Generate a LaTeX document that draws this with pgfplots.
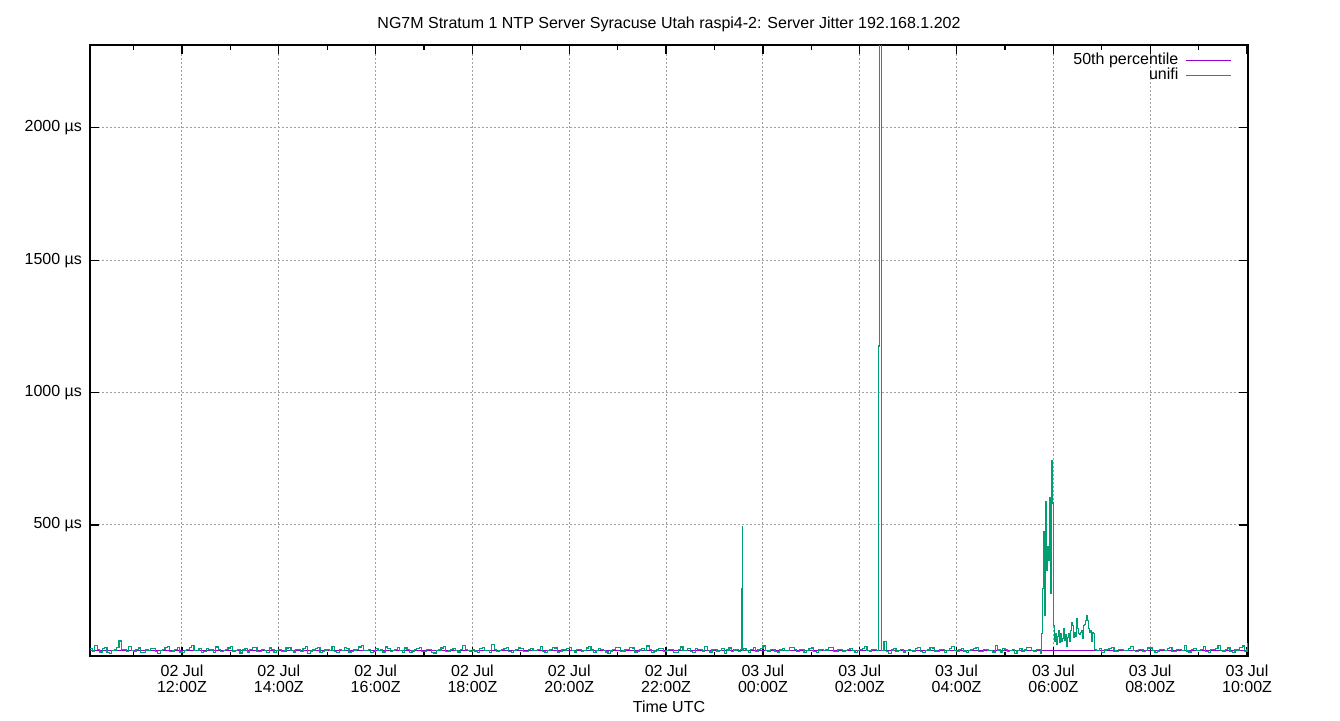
\documentclass[border=0pt]{standalone}
\usepackage{fontspec}
\setmainfont{Liberation Sans}
\usepackage{pgfplots}
\pgfplotsset{compat=1.18}
\definecolor{pct}{RGB}{148,0,211}
\definecolor{unifi}{RGB}{0,158,115}
\definecolor{gridgray}{RGB}{160,160,160}

\begin{document}
\begin{tikzpicture}
\path[use as bounding box] (0,0) rectangle (670pt,360pt);
\begin{axis}[
    at={(45pt,32pt)}, anchor=south west,
    scale only axis,
    width=579pt, height=305.5pt,
    xmin=10.10, xmax=34.02,
    ymin=5, ymax=2313,
    axis line style={black, line width=0.6pt},
    tick style={black, line width=0.6pt},
    major tick length=4.5pt,
    minor tick length=2.25pt,
    tick align=inside,
    xtick={12,14,...,34},
    minor xtick={11,13,...,33},
    xticklabels={{02 Jul\\12:00Z},{02 Jul\\14:00Z},{02 Jul\\16:00Z},{02 Jul\\18:00Z},{02 Jul\\20:00Z},{02 Jul\\22:00Z},{03 Jul\\00:00Z},{03 Jul\\02:00Z},{03 Jul\\04:00Z},{03 Jul\\06:00Z},{03 Jul\\08:00Z},{03 Jul\\10:00Z}},
    xticklabel style={align=center, font=\fontsize{8}{8}\selectfont, yshift=-1pt},
    ytick={500,1000,1500,2000},
    yticklabels={500 µs,1000 µs,1500 µs,2000 µs},
    yticklabel style={font=\fontsize{8}{8}\selectfont, xshift=-0.5pt},
    xmajorgrids, ymajorgrids,
    major grid style={gridgray, line width=0.5pt, dash pattern=on 1pt off 1pt},
    xlabel={Time UTC},
    xlabel style={font=\fontsize{8}{8}\selectfont, yshift=3pt},
    title={NG7M Stratum 1 NTP Server Syracuse Utah raspi4-2: Server Jitter 192.168.1.202},
    title style={font=\fontsize{8}{8}\selectfont, at={(0.5,1)}, anchor=center, yshift=4.5pt},
    legend style={at={(rel axis cs:1,1)}, anchor=north east, xshift=-8pt, yshift=-3.75pt,
        draw=none, fill=none, inner sep=0pt, row sep=0pt,
        font=\fontsize{8}{8}\selectfont,
        nodes={inner xsep=0.5pt, inner ysep=0.25pt, text height=5.5pt, text depth=1.5pt},
        legend cell align=right},
    legend plot pos=right,
    legend image code/.code={\draw[#1] (0pt,0pt) -- (22.5pt,0pt);},
]
\addplot[pct, line width=0.6pt] coordinates {(10.10,26) (34.02,26)};
\addlegendentry{50th percentile\kern3pt}
\addplot[unifi, line width=0.6pt, const plot] coordinates {
(10.10,32) (10.15,24) (10.20,45) (10.25,29) (10.30,20) (10.35,33) (10.40,38) (10.45,17) (10.50,15)
(10.55,27) (10.60,28) (10.65,36) (10.70,62) (10.75,30) (10.80,30) (10.85,22) (10.90,41) (10.95,26)
(11.00,22) (11.05,31) (11.10,35) (11.15,19) (11.20,18) (11.25,28) (11.30,27) (11.35,34) (11.40,33) (11.45,21)
(11.50,14) (11.55,26) (11.60,29) (11.65,37) (11.70,40) (11.75,23) (11.80,24) (11.85,30) (11.90,36) (11.95,20)
(12.00,19) (12.05,27) (12.10,31) (12.15,38) (12.20,44) (12.25,25) (12.30,26) (12.35,33) (12.40,17) (12.45,22)
(12.50,34) (12.55,29) (12.60,28) (12.65,19) (12.70,39) (12.75,31) (12.80,21) (12.85,27) (12.90,30) (12.95,35)
(13.00,42) (13.05,24) (13.10,25) (13.15,31) (13.20,16) (13.25,28) (13.30,33) (13.35,20) (13.40,29) (13.45,36)
(13.50,37) (13.55,23) (13.60,22) (13.65,30) (13.70,27) (13.75,18) (13.80,35) (13.85,29) (13.90,18) (13.95,26)
(14.00,31) (14.05,22) (14.10,24) (14.15,35) (14.20,38) (14.25,27) (14.30,20) (14.35,30) (14.40,29) (14.45,21)
(14.50,33) (14.55,40) (14.60,15) (14.65,24) (14.70,28) (14.75,33) (14.80,36) (14.85,19) (14.90,23) (14.95,28)
(15.00,30) (15.05,25) (15.10,41) (15.15,22) (15.20,19) (15.25,31) (15.30,27) (15.35,36) (15.40,34) (15.45,20)
(15.50,22) (15.55,28) (15.60,31) (15.65,39) (15.70,44) (15.75,26) (15.80,25) (15.85,30) (15.90,17) (15.95,23)
(16.00,32) (16.05,27) (16.10,28) (16.15,20) (16.20,39) (16.25,33) (16.30,21) (16.35,25) (16.40,30) (16.45,36)
(16.50,26) (16.55,18) (16.60,35) (16.65,29) (16.70,18) (16.75,24) (16.80,29) (16.85,33) (16.90,37) (16.95,22)
(17.00,23) (17.05,30) (17.10,31) (17.15,19) (17.20,16) (17.25,27) (17.30,28) (17.35,35) (17.40,40) (17.45,22)
(17.50,24) (17.55,31) (17.60,33) (17.65,26) (17.70,20) (17.75,29) (17.80,46) (17.85,30) (17.90,27) (17.95,21)
(18.00,31) (18.05,24) (18.10,19) (18.15,33) (18.20,36) (18.25,27) (18.30,25) (18.35,18) (18.40,48) (18.45,30)
(18.50,22) (18.55,27) (18.60,30) (18.65,34) (18.70,38) (18.75,23) (18.80,17) (18.85,25) (18.90,29) (18.95,35)
(19.00,34) (19.05,22) (19.10,21) (19.15,29) (19.20,32) (19.25,27) (19.30,26) (19.35,31) (19.40,40) (19.45,23)
(19.50,18) (19.55,26) (19.60,30) (19.65,37) (19.70,35) (19.75,20) (19.80,23) (19.85,30) (19.90,28) (19.95,33)
(20.00,37) (20.05,26) (20.10,20) (20.15,29) (20.20,31) (20.25,24) (20.30,26) (20.35,35) (20.40,42) (20.45,28)
(20.50,19) (20.55,25) (20.60,33) (20.65,30) (20.70,27) (20.75,20) (20.80,15) (20.85,24) (20.90,30) (20.95,36)
(21.00,38) (21.05,22) (21.10,24) (21.15,31) (21.20,29) (21.25,36) (21.30,35) (21.35,20) (21.40,21) (21.45,28)
(21.50,32) (21.55,27) (21.60,43) (21.65,29) (21.70,18) (21.75,24) (21.80,28) (21.85,33) (21.90,34) (21.95,22)
(22.00,25) (22.05,31) (22.10,30) (22.15,19) (22.20,17) (22.25,29) (22.30,39) (22.35,26) (22.40,27) (22.45,33)
(22.50,22) (22.55,18) (22.60,33) (22.65,30) (22.70,29) (22.75,24) (22.80,41) (22.85,27) (22.90,20) (22.95,31)
(23.00,31) (23.05,24) (23.10,26) (23.15,33) (23.20,14) (23.25,28) (23.30,35) (23.35,22) (23.40,28) (23.45,31)
(23.50,22) (23.540,30) (23.556,258) (23.570,492) (23.585,28) (23.60,33) (23.65,25) (23.70,18) (23.75,29)
(23.80,36) (23.85,21) (23.90,29) (23.95,34)
(24.00,43) (24.05,27) (24.10,24) (24.15,30) (24.20,31) (24.25,22) (24.30,20) (24.35,28) (24.40,34) (24.45,25)
(24.50,27) (24.55,36) (24.60,38) (24.65,29) (24.70,22) (24.75,31) (24.80,30) (24.85,19) (24.90,25) (24.95,32)
(25.00,35) (25.05,23) (25.10,19) (25.15,28) (25.20,31) (25.25,26) (25.30,28) (25.35,36) (25.40,37) (25.45,21)
(25.50,21) (25.55,29) (25.60,30) (25.65,24) (25.70,26) (25.75,31) (25.80,33) (25.85,27) (25.90,18) (25.95,25)
(26.00,29) (26.05,33) (26.10,40) (26.15,26) (26.20,24) (26.25,30) (26.30,31) (26.35,27)
(26.386,1176) (26.407,2800) (26.448,27) (26.50,60) (26.55,22) (26.60,14) (26.65,28) (26.70,33) (26.75,24)
(26.80,26) (26.85,31) (26.90,20) (26.95,27)
(27.00,31) (27.05,25) (27.10,24) (27.15,33) (27.20,38) (27.25,22) (27.30,19) (27.35,27) (27.40,28) (27.45,36)
(27.50,35) (27.55,24) (27.60,22) (27.65,31) (27.70,30) (27.75,19) (27.80,26) (27.85,33) (27.90,40) (27.95,27)
(28.00,21) (28.05,29) (28.10,32) (28.15,24) (28.20,17) (28.25,26) (28.30,29) (28.35,33) (28.40,36) (28.45,21)
(28.50,23) (28.55,30) (28.60,31) (28.65,27) (28.70,25) (28.75,20) (28.80,44) (28.85,28) (28.90,20) (28.95,32)
(29.00,30) (29.05,23) (29.10,27) (29.15,31) (29.20,15) (29.25,26) (29.30,33) (29.35,24) (29.40,28) (29.45,37)
(29.50,38) (29.55,25) (29.60,22)
(29.645,30) (29.727,15) (29.758,90) (29.779,260) (29.800,474) (29.820,160) (29.831,588) (29.851,330)
(29.872,420) (29.893,368) (29.913,602) (29.934,240) (29.955,745) (29.975,583) (29.996,120) (30.017,60)
(30.037,90) (30.058,50) (30.079,80) (30.099,100) (30.120,55) (30.140,90) (30.161,60) (30.182,70)
(30.202,110) (30.223,65) (30.244,85) (30.264,40) (30.285,75) (30.306,90) (30.326,60) (30.347,100)
(30.368,130) (30.388,120) (30.409,75) (30.430,95) (30.450,80) (30.471,148) (30.492,110) (30.512,90)
(30.533,85) (30.554,95) (30.574,100) (30.595,70) (30.616,120) (30.636,125) (30.657,140) (30.678,157)
(30.698,140) (30.719,110) (30.740,95) (30.760,100) (30.781,60) (30.802,95) (30.822,90) (30.843,30)
(30.884,25) (30.95,32)
(31.00,19) (31.05,28) (31.10,29) (31.15,33) (31.20,36) (31.25,24) (31.30,23) (31.35,31) (31.40,30) (31.45,25)
(31.50,26) (31.55,34) (31.60,42) (31.65,27) (31.70,21) (31.75,29) (31.80,31) (31.85,22) (31.90,27) (31.95,35)
(32.00,35) (32.05,26) (32.10,18) (32.15,24) (32.20,30) (32.25,29) (32.30,25) (32.35,33) (32.40,38) (32.45,21)
(32.50,22) (32.55,30) (32.60,29) (32.65,27) (32.70,45) (32.75,24) (32.80,20) (32.85,31) (32.90,33) (32.95,25)
(33.00,27) (33.05,31) (33.10,40) (33.15,23) (33.20,17) (33.25,29) (33.30,31) (33.35,34) (33.40,46) (33.45,27)
(33.50,24) (33.55,30) (33.60,35) (33.65,21) (33.70,19) (33.75,28) (33.80,28) (33.85,36) (33.90,43) (33.95,24)
(34.00,30) (34.02,55)
};
\addlegendentry{unifi\kern3pt}
\end{axis}
\end{tikzpicture}
\end{document}
